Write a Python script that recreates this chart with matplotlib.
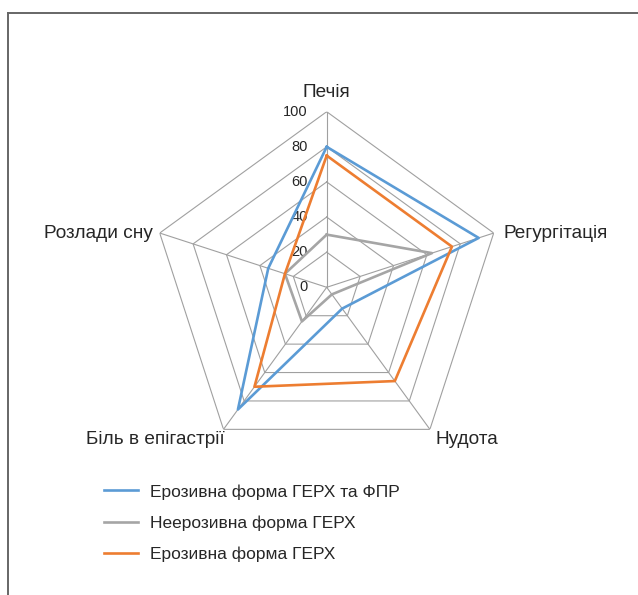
import numpy as np
import matplotlib
matplotlib.use('Agg')
import matplotlib.pyplot as plt
from matplotlib.lines import Line2D

plt.rcParams['font.family'] = ['Liberation Sans', 'DejaVu Sans']

# Data
categories = ['Печія', 'Регургітація', 'Нудота', 'Біль в епігастрії', 'Розлади сну']
series_names = ['Ерозивна форма ГЕРХ та ФПР', 'Неерозивна форма ГЕРХ', 'Ерозивна форма ГЕРХ']
erosive_fpr = [80, 91, 15, 86, 35]
non_erosive = [30, 63, 5, 24, 25]
erosive = [75, 75, 66, 70, 25]
radial_ticks = [0, 20, 40, 60, 80, 100]

colors = ['#5B9BD5', '#A5A5A5', '#ED7D31']
grid_color = '#a0a0a0'
text_color = '#262626'

W, H = 638, 595
fig = plt.figure(figsize=(W / 100, H / 100), dpi=100)

# polar axes placed so the centre and radius match the reference
cx, cy, R = 326.7, 287.3, 175.6
ax = fig.add_axes([(cx - R) / W, (H - cy - R) / H, 2 * R / W, 2 * R / H], polar=True)
ax.set_theta_offset(np.pi / 2)
ax.set_theta_direction(-1)
ax.set_ylim(0, 100)
ax.grid(False)
ax.spines['polar'].set_visible(False)
ax.set_xticks([])
ax.set_yticks([])
ax.patch.set_alpha(0)

n = len(categories)
angles = np.linspace(0, 2 * np.pi, n, endpoint=False)
closed = np.append(angles, angles[0])

# pentagon grid and spokes
for r in radial_ticks[1:]:
    ax.plot(closed, [r] * (n + 1), color=grid_color, lw=0.8, zorder=1)
for a in angles:
    ax.plot([a, a], [0, 100], color=grid_color, lw=0.8, zorder=1)

# radial tick labels to the left of the top spoke
for r in radial_ticks:
    ax.annotate(str(r), xy=(0, r), xytext=(-13.5, 0), textcoords='offset points',
                ha='right', va='center', fontsize=10.5, color=text_color, zorder=2)

# series
for vals, name, c in zip([erosive_fpr, non_erosive, erosive], series_names, colors):
    ax.plot(closed, vals + vals[:1], color=c, lw=1.9, label=name, zorder=3)

# category labels
label_pos = [
    (0, 14, 'center', 'center'),
    (7, 0, 'left', 'center'),
    (4, -1, 'left', 'top'),
    (1, -1, 'right', 'top'),
    (-5, 0, 'right', 'center'),
]
for a, cat, (dx, dy, ha, va) in zip(angles, categories, label_pos):
    ax.annotate(cat, xy=(a, 100), xytext=(dx, dy), textcoords='offset points',
                ha=ha, va=va, fontsize=13.7, color=text_color)

# legend
fig.legend(loc='upper left', bbox_to_anchor=(104 / W, 1 - 484 / H), frameon=False,
           fontsize=12.5, handlelength=1.95, handletextpad=0.7, labelspacing=0.9,
           borderpad=0, borderaxespad=0, labelcolor=text_color)

# chart frame (cut off at the right and bottom edges)
fig.add_artist(Line2D([8 / W, 1], [1 - 13 / H, 1 - 13 / H], color='#666666', lw=1.4))
fig.add_artist(Line2D([8 / W, 8 / W], [0, 1 - 13 / H], color='#666666', lw=1.4))

fig.savefig('out.png', dpi=100)
